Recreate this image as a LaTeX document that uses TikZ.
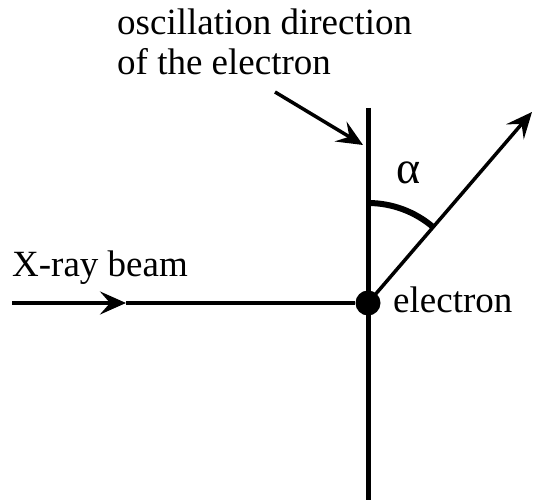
\documentclass[tikz,border=0pt]{standalone}
\usepackage{fontspec}
\setmainfont{Liberation Serif}
\usetikzlibrary{arrows.meta}

\begin{document}
\begin{tikzpicture}[x=1pt,y=1pt,
  lbl/.style={inner sep=0pt,font=\fontsize{37}{40}\selectfont},
  ray/.style={line width=3.5pt},
  tipped/.style={ray,-{Stealth[length=26pt,width=23pt,inset=10pt]}}]
\path[use as bounding box] (0,0) rectangle (533,500);
\coordinate (top) at (368,392);
\coordinate (bot) at (368,0);
\coordinate (src) at (12,197);
\coordinate (mid) at (126,197);
\coordinate (tip) at (532,388);
\coordinate (ptr) at (275,408);
\coordinate (hit) at (363,355);
\node[circle,fill,minimum size=25pt,inner sep=0pt] (e) at (368,197) {};
\draw[line width=5pt] (top)--(bot);
\draw[tipped] (src)--(mid);
\draw[ray] (mid)--(e);
\draw[tipped] (e.center)--(tip);
\draw[line width=6pt] (368,297) arc[start angle=90,end angle=49.35,radius=100];
\draw[tipped] (ptr)--(hit);
\node[lbl,anchor=base west] (osc) at (117,465) {oscillation direction};
\node[lbl,anchor=base west] (ofe) at (117,425) {of the electron};
\node[lbl,anchor=base west] (xr) at (12,223) {X-ray beam};
\node[lbl,anchor=base west] (el) at (393,187) {electron};
\node[lbl,anchor=base west,font=\fontsize{46}{46}\selectfont] (al) at (396,316) {α};
\end{tikzpicture}
\end{document}
